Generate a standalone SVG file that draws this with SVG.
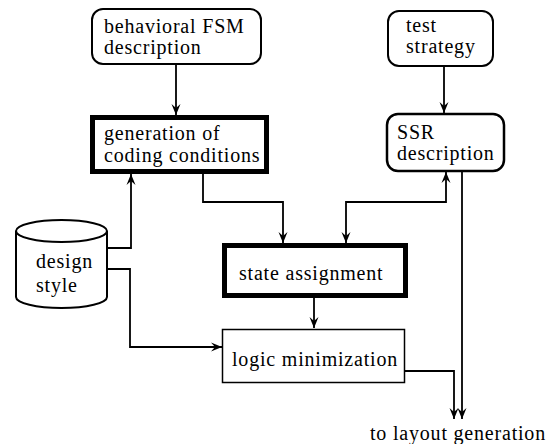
<svg xmlns="http://www.w3.org/2000/svg" width="553" height="444" viewBox="0 0 553 444">
<style>
text{font-family:"Liberation Serif","Times New Roman",serif;font-size:20px;letter-spacing:0.8px;fill:#000}
.box{fill:#fff;stroke:#000}
.c{fill:none;stroke:#000;stroke-width:1.8}
</style>
<defs>
<marker id="ah" viewBox="-12 -5 13 10" refX="0" refY="0" markerWidth="13" markerHeight="10" markerUnits="userSpaceOnUse" orient="auto-start-reverse">
<path d="M0,0 L-11,-4.5 L-7,0 L-11,4.5 Z" fill="#000"/>
</marker>
</defs>
<rect width="553" height="444" fill="#fff"/>
<g id="behavioral">
<rect class="box" x="92" y="9" width="169" height="55" rx="11" stroke-width="2"/>
<text x="104" y="33">behavioral FSM</text>
<text x="104" y="54">description</text>
</g>
<g id="test">
<rect class="box" x="388" y="11" width="105" height="55" rx="11" stroke-width="2"/>
<text x="406" y="32">test</text>
<text x="406" y="53">strategy</text>
</g>
<g id="generation">
<rect class="box" x="92.5" y="117.5" width="174" height="54" stroke-width="5"/>
<text x="104" y="140">generation of</text>
<text x="104" y="162">coding conditions</text>
</g>
<g id="ssr">
<rect class="box" x="387" y="114" width="117" height="57" rx="11" stroke-width="2.5"/>
<text x="397" y="139">SSR</text>
<text x="397" y="160">description</text>
</g>
<g id="design">
<path class="box" stroke-width="2" d="M16,231 L16,297 A45.5,11 0 0 0 107,297 L107,231 A45.5,11 0 0 0 16,231 Z M16,231 A45.5,11 0 0 0 107,231"/>
<text x="36" y="268">design</text>
<text x="36" y="292">style</text>
</g>
<g id="state">
<rect class="box" x="224.5" y="245.5" width="181" height="50" stroke-width="5"/>
<text x="239" y="280">state assignment</text>
</g>
<g id="logic">
<rect class="box" x="222.5" y="329.5" width="182" height="53" stroke-width="1.5"/>
<text x="232" y="366">logic minimization</text>
</g>
<g id="output">
<text x="370" y="440">to layout generation</text>
</g>
<g id="connectors">
<path class="c" d="M176,64 L176,115" marker-end="url(#ah)"/>
<path class="c" d="M444,66 L444,113" marker-end="url(#ah)"/>
<path class="c" d="M107,248 L131,248 L131,174" marker-end="url(#ah)"/>
<path class="c" d="M203,174 L203,202 L283,202 L283,243" marker-end="url(#ah)"/>
<path class="c" d="M346,243 L346,202 L446,202 L446,172" marker-start="url(#ah)" marker-end="url(#ah)"/>
<path class="c" d="M107,269 L130,269 L130,347 L222,347" marker-end="url(#ah)"/>
<path class="c" d="M314,298 L314,328" marker-end="url(#ah)"/>
<path class="c" d="M405,371 L454,371 L454,419" marker-end="url(#ah)"/>
<path class="c" d="M462,172 L462,419" marker-end="url(#ah)"/>
</g>
</svg>
